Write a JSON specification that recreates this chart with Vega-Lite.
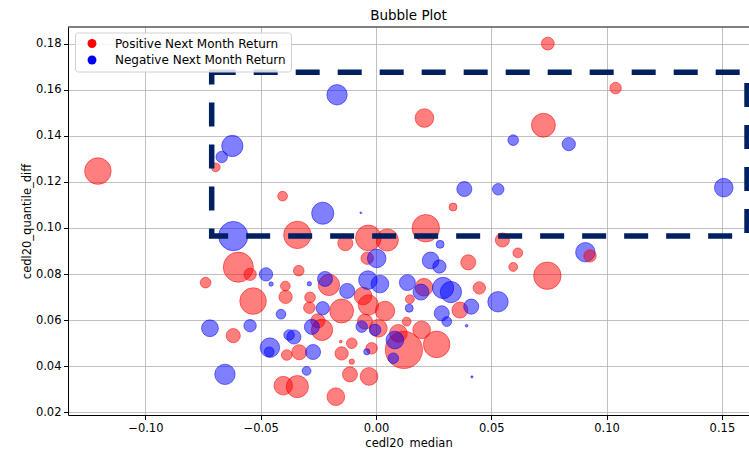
{
  "$schema": "https://vega.github.io/schema/vega-lite/v6.json",
  "autosize": {"type": "none"},
  "width": 681,
  "height": 388,
  "padding": {"left": 68, "top": 27, "right": 0, "bottom": 34},
  "background": "white",
  "title": {"text": "Bubble Plot", "fontSize": 13.5, "fontWeight": "normal", "color": "#000", "anchor": "middle", "offset": 4, "font": "DejaVu Sans"},
  "config": {
    "font": "DejaVu Sans",
    "view": {"stroke": null},
    "axis": {
      "grid": true, "gridColor": "#b0b0b0", "gridWidth": 0.8,
      "domainColor": "#000", "domainWidth": 1,
      "tickColor": "#000", "tickSize": 4.5, "tickWidth": 1,
      "labelFontSize": 11.5, "labelColor": "#000", "labelFont": "DejaVu Sans",
      "titleFontSize": 11.5, "titleFontWeight": "normal", "titleColor": "#000", "titleFont": "DejaVu Sans"
    },
    "legend": {"labelFont": "DejaVu Sans"}
  },
  "datasets": {
    "frame": [{"x0": -0.07125, "x1": 0.1609, "y0": 0.0965, "y1": 0.16755}],
    "spine": [{"top": 0.1872}],
    "bubbles": [
      {"median": -0.1206, "qdiff": 0.1247, "vol": 900, "ret": "Positive Next Month Return"},
      {"median": 0.0745, "qdiff": 0.1800, "vol": 210, "ret": "Positive Next Month Return"},
      {"median": 0.1039, "qdiff": 0.1607, "vol": 169, "ret": "Positive Next Month Return"},
      {"median": 0.0210, "qdiff": 0.1477, "vol": 441, "ret": "Positive Next Month Return"},
      {"median": 0.0726, "qdiff": 0.1446, "vol": 729, "ret": "Positive Next Month Return"},
      {"median": -0.0695, "qdiff": 0.1263, "vol": 100, "ret": "Positive Next Month Return"},
      {"median": 0.0334, "qdiff": 0.1091, "vol": 81, "ret": "Positive Next Month Return"},
      {"median": -0.0405, "qdiff": 0.1138, "vol": 121, "ret": "Positive Next Month Return"},
      {"median": 0.0216, "qdiff": 0.0999, "vol": 961, "ret": "Positive Next Month Return"},
      {"median": 0.0548, "qdiff": 0.0948, "vol": 256, "ret": "Positive Next Month Return"},
      {"median": 0.0615, "qdiff": 0.0892, "vol": 121, "ret": "Positive Next Month Return"},
      {"median": 0.0595, "qdiff": 0.0831, "vol": 100, "ret": "Positive Next Month Return"},
      {"median": 0.0743, "qdiff": 0.0793, "vol": 961, "ret": "Positive Next Month Return"},
      {"median": 0.0400, "qdiff": 0.0851, "vol": 289, "ret": "Positive Next Month Return"},
      {"median": 0.0208, "qdiff": 0.0743, "vol": 400, "ret": "Positive Next Month Return"},
      {"median": 0.0448, "qdiff": 0.0740, "vol": 196, "ret": "Positive Next Month Return"},
      {"median": 0.0147, "qdiff": 0.0691, "vol": 100, "ret": "Positive Next Month Return"},
      {"median": 0.0364, "qdiff": 0.0644, "vol": 324, "ret": "Positive Next Month Return"},
      {"median": -0.0341, "qdiff": 0.0970, "vol": 961, "ret": "Positive Next Month Return"},
      {"median": -0.0033, "qdiff": 0.0957, "vol": 841, "ret": "Positive Next Month Return"},
      {"median": 0.0049, "qdiff": 0.0948, "vol": 625, "ret": "Positive Next Month Return"},
      {"median": -0.0133, "qdiff": 0.0934, "vol": 289, "ret": "Positive Next Month Return"},
      {"median": -0.0038, "qdiff": 0.0869, "vol": 196, "ret": "Positive Next Month Return"},
      {"median": -0.0597, "qdiff": 0.0830, "vol": 1156, "ret": "Positive Next Month Return"},
      {"median": -0.0546, "qdiff": 0.0799, "vol": 196, "ret": "Positive Next Month Return"},
      {"median": -0.0335, "qdiff": 0.0815, "vol": 144, "ret": "Positive Next Month Return"},
      {"median": -0.0739, "qdiff": 0.0763, "vol": 144, "ret": "Positive Next Month Return"},
      {"median": -0.0393, "qdiff": 0.0748, "vol": 121, "ret": "Positive Next Month Return"},
      {"median": -0.0204, "qdiff": 0.0753, "vol": 576, "ret": "Positive Next Month Return"},
      {"median": -0.0392, "qdiff": 0.0701, "vol": 225, "ret": "Positive Next Month Return"},
      {"median": -0.0533, "qdiff": 0.0683, "vol": 900, "ret": "Positive Next Month Return"},
      {"median": -0.0286, "qdiff": 0.0699, "vol": 144, "ret": "Positive Next Month Return"},
      {"median": -0.0289, "qdiff": 0.0654, "vol": 169, "ret": "Positive Next Month Return"},
      {"median": -0.0149, "qdiff": 0.0640, "vol": 729, "ret": "Positive Next Month Return"},
      {"median": -0.0619, "qdiff": 0.0533, "vol": 256, "ret": "Positive Next Month Return"},
      {"median": -0.0387, "qdiff": 0.0449, "vol": 144, "ret": "Positive Next Month Return"},
      {"median": -0.0333, "qdiff": 0.0461, "vol": 289, "ret": "Positive Next Month Return"},
      {"median": -0.0234, "qdiff": 0.0558, "vol": 576, "ret": "Positive Next Month Return"},
      {"median": -0.0252, "qdiff": 0.0597, "vol": 256, "ret": "Positive Next Month Return"},
      {"median": -0.0149, "qdiff": 0.0456, "vol": 225, "ret": "Positive Next Month Return"},
      {"median": -0.0105, "qdiff": 0.0500, "vol": 144, "ret": "Positive Next Month Return"},
      {"median": -0.0153, "qdiff": 0.0507, "vol": 9, "ret": "Positive Next Month Return"},
      {"median": -0.0105, "qdiff": 0.0420, "vol": 36, "ret": "Positive Next Month Return"},
      {"median": -0.0402, "qdiff": 0.0316, "vol": 441, "ret": "Positive Next Month Return"},
      {"median": -0.0341, "qdiff": 0.0312, "vol": 625, "ret": "Positive Next Month Return"},
      {"median": -0.0174, "qdiff": 0.0268, "vol": 400, "ret": "Positive Next Month Return"},
      {"median": -0.0113, "qdiff": 0.0365, "vol": 289, "ret": "Positive Next Month Return"},
      {"median": -0.0030, "qdiff": 0.0356, "vol": 400, "ret": "Positive Next Month Return"},
      {"median": -0.0033, "qdiff": 0.0666, "vol": 529, "ret": "Positive Next Month Return"},
      {"median": 0.0039, "qdiff": 0.0640, "vol": 484, "ret": "Positive Next Month Return"},
      {"median": 0.0198, "qdiff": 0.0558, "vol": 400, "ret": "Positive Next Month Return"},
      {"median": 0.0263, "qdiff": 0.0495, "vol": 900, "ret": "Positive Next Month Return"},
      {"median": 0.0121, "qdiff": 0.0471, "vol": 1764, "ret": "Positive Next Month Return"},
      {"median": 0.0097, "qdiff": 0.0543, "vol": 400, "ret": "Positive Next Month Return"},
      {"median": 0.0010, "qdiff": 0.0565, "vol": 400, "ret": "Positive Next Month Return"},
      {"median": -0.0048, "qdiff": 0.0594, "vol": 289, "ret": "Positive Next Month Return"},
      {"median": -0.0019, "qdiff": 0.0478, "vol": 169, "ret": "Positive Next Month Return"},
      {"median": 0.0133, "qdiff": 0.0594, "vol": 100, "ret": "Positive Next Month Return"},
      {"median": -0.0056, "qdiff": 0.0705, "vol": 400, "ret": "Positive Next Month Return"},
      {"median": -0.0169, "qdiff": 0.1578, "vol": 529, "ret": "Negative Next Month Return"},
      {"median": 0.0595, "qdiff": 0.1381, "vol": 144, "ret": "Negative Next Month Return"},
      {"median": 0.0836, "qdiff": 0.1364, "vol": 225, "ret": "Negative Next Month Return"},
      {"median": -0.0623, "qdiff": 0.1356, "vol": 576, "ret": "Negative Next Month Return"},
      {"median": -0.0669, "qdiff": 0.1308, "vol": 169, "ret": "Negative Next Month Return"},
      {"median": 0.0383, "qdiff": 0.1169, "vol": 289, "ret": "Negative Next Month Return"},
      {"median": 0.0530, "qdiff": 0.1168, "vol": 169, "ret": "Negative Next Month Return"},
      {"median": -0.0231, "qdiff": 0.1064, "vol": 625, "ret": "Negative Next Month Return"},
      {"median": -0.0066, "qdiff": 0.1066, "vol": 4, "ret": "Negative Next Month Return"},
      {"median": 0.1508, "qdiff": 0.1175, "vol": 441, "ret": "Negative Next Month Return"},
      {"median": 0.0908, "qdiff": 0.0895, "vol": 484, "ret": "Negative Next Month Return"},
      {"median": 0.0278, "qdiff": 0.0929, "vol": 81, "ret": "Negative Next Month Return"},
      {"median": 0.0237, "qdiff": 0.0859, "vol": 361, "ret": "Negative Next Month Return"},
      {"median": 0.0275, "qdiff": 0.0833, "vol": 225, "ret": "Negative Next Month Return"},
      {"median": 0.0136, "qdiff": 0.0763, "vol": 324, "ret": "Negative Next Month Return"},
      {"median": 0.0291, "qdiff": 0.0740, "vol": 576, "ret": "Negative Next Month Return"},
      {"median": 0.0325, "qdiff": 0.0722, "vol": 576, "ret": "Negative Next Month Return"},
      {"median": 0.0529, "qdiff": 0.0680, "vol": 529, "ret": "Negative Next Month Return"},
      {"median": 0.0144, "qdiff": 0.0652, "vol": 81, "ret": "Negative Next Month Return"},
      {"median": 0.0413, "qdiff": 0.0659, "vol": 289, "ret": "Negative Next Month Return"},
      {"median": 0.0285, "qdiff": 0.0630, "vol": 289, "ret": "Negative Next Month Return"},
      {"median": 0.0307, "qdiff": 0.0594, "vol": 121, "ret": "Negative Next Month Return"},
      {"median": 0.0393, "qdiff": 0.0576, "vol": 9, "ret": "Negative Next Month Return"},
      {"median": 0.0416, "qdiff": 0.0354, "vol": 6, "ret": "Negative Next Month Return"},
      {"median": -0.0619, "qdiff": 0.0965, "vol": 1089, "ret": "Negative Next Month Return"},
      {"median": 0.0003, "qdiff": 0.0868, "vol": 441, "ret": "Negative Next Month Return"},
      {"median": -0.0477, "qdiff": 0.0799, "vol": 225, "ret": "Negative Next Month Return"},
      {"median": -0.0455, "qdiff": 0.0757, "vol": 25, "ret": "Negative Next Month Return"},
      {"median": -0.0289, "qdiff": 0.0758, "vol": 25, "ret": "Negative Next Month Return"},
      {"median": -0.0221, "qdiff": 0.0779, "vol": 289, "ret": "Negative Next Month Return"},
      {"median": -0.0125, "qdiff": 0.0727, "vol": 289, "ret": "Negative Next Month Return"},
      {"median": -0.0231, "qdiff": 0.0652, "vol": 225, "ret": "Negative Next Month Return"},
      {"median": -0.0412, "qdiff": 0.0626, "vol": 121, "ret": "Negative Next Month Return"},
      {"median": -0.0720, "qdiff": 0.0565, "vol": 361, "ret": "Negative Next Month Return"},
      {"median": -0.0546, "qdiff": 0.0576, "vol": 196, "ret": "Negative Next Month Return"},
      {"median": -0.0460, "qdiff": 0.0481, "vol": 484, "ret": "Negative Next Month Return"},
      {"median": -0.0463, "qdiff": 0.0463, "vol": 121, "ret": "Negative Next Month Return"},
      {"median": -0.0356, "qdiff": 0.0527, "vol": 256, "ret": "Negative Next Month Return"},
      {"median": -0.0377, "qdiff": 0.0536, "vol": 144, "ret": "Negative Next Month Return"},
      {"median": -0.0278, "qdiff": 0.0571, "vol": 289, "ret": "Negative Next Month Return"},
      {"median": -0.0273, "qdiff": 0.0462, "vol": 289, "ret": "Negative Next Month Return"},
      {"median": -0.0301, "qdiff": 0.0380, "vol": 100, "ret": "Negative Next Month Return"},
      {"median": -0.0655, "qdiff": 0.0365, "vol": 529, "ret": "Negative Next Month Return"},
      {"median": -0.0035, "qdiff": 0.0774, "vol": 441, "ret": "Negative Next Month Return"},
      {"median": 0.0017, "qdiff": 0.0757, "vol": 400, "ret": "Negative Next Month Return"},
      {"median": 0.0082, "qdiff": 0.0514, "vol": 400, "ret": "Negative Next Month Return"},
      {"median": 0.0075, "qdiff": 0.0435, "vol": 144, "ret": "Negative Next Month Return"},
      {"median": -0.0062, "qdiff": 0.0572, "vol": 169, "ret": "Negative Next Month Return"},
      {"median": -0.0004, "qdiff": 0.0558, "vol": 169, "ret": "Negative Next Month Return"},
      {"median": -0.0040, "qdiff": 0.0463, "vol": 49, "ret": "Negative Next Month Return"},
      {"median": 0.0195, "qdiff": 0.0722, "vol": 324, "ret": "Negative Next Month Return"},
      {"median": 0.0928, "qdiff": 0.0879, "vol": 196, "ret": "Positive Next Month Return"}
    ]
  },
  "layer": [
    {
      "data": {"name": "bubbles"},
      "mark": {"type": "circle", "fillOpacity": 0.5, "strokeOpacity": 0.5, "strokeWidth": 1, "opacity": 1},
      "encoding": {
        "x": {"field": "median", "type": "quantitative", "title": "cedl20_median",
          "scale": {"domain": [-0.13356, 0.16175], "nice": false, "zero": false},
          "axis": {"values": [-0.1, -0.05, 0, 0.05, 0.1, 0.15], "format": ".2f", "labelPadding": 3, "titlePadding": 3}},
        "y": {"field": "qdiff", "type": "quantitative", "title": "cedl20_quantile_diff",
          "scale": {"domain": [0.01887, 0.1872], "nice": false, "zero": false},
          "axis": {"values": [0.02, 0.04, 0.06, 0.08, 0.1, 0.12, 0.14, 0.16, 0.18], "format": ".2f", "labelPadding": 2.5, "titlePadding": 3}},
        "color": {"field": "ret", "type": "nominal",
          "scale": {"domain": ["Positive Next Month Return", "Negative Next Month Return"], "range": ["#ff0000", "#0000ff"]},
          "legend": {"title": null, "orient": "none", "legendX": 7, "legendY": 5.5, "padding": 5,
            "symbolType": "circle", "symbolSize": 79, "symbolOpacity": 1, "symbolStrokeWidth": 0, "symbolOffset": 6,
            "labelFontSize": 12, "labelColor": "#000", "labelOffset": 17, "labelLimit": 0, "rowPadding": 4.5,
            "strokeColor": "#d0d0d0", "fillColor": "rgba(255,255,255,0.85)", "cornerRadius": 3}},
        "stroke": {"field": "ret", "type": "nominal",
          "scale": {"domain": ["Positive Next Month Return", "Negative Next Month Return"], "range": ["#ff0000", "#0000ff"]},
          "legend": null},
        "size": {"field": "vol", "type": "quantitative", "scale": {"type": "linear", "domain": [0, 2000], "range": [0, 1571]}, "legend": null}
      }
    },
    {
      "data": {"name": "frame"},
      "mark": {"type": "rect", "fillOpacity": 0, "fill": "white", "stroke": "#002060", "strokeWidth": 5.5, "strokeDash": [24, 18]},
      "encoding": {
        "x": {"field": "x0", "type": "quantitative", "title": "cedl20_median"},
        "x2": {"field": "x1"},
        "y": {"field": "y0", "type": "quantitative", "title": "cedl20_quantile_diff"},
        "y2": {"field": "y1"}
      }
    },
    {
      "data": {"name": "spine"},
      "mark": {"type": "rule", "color": "#000", "strokeWidth": 1},
      "encoding": {
        "y": {"field": "top", "type": "quantitative", "title": "cedl20_quantile_diff"}
      }
    }
  ]
}
